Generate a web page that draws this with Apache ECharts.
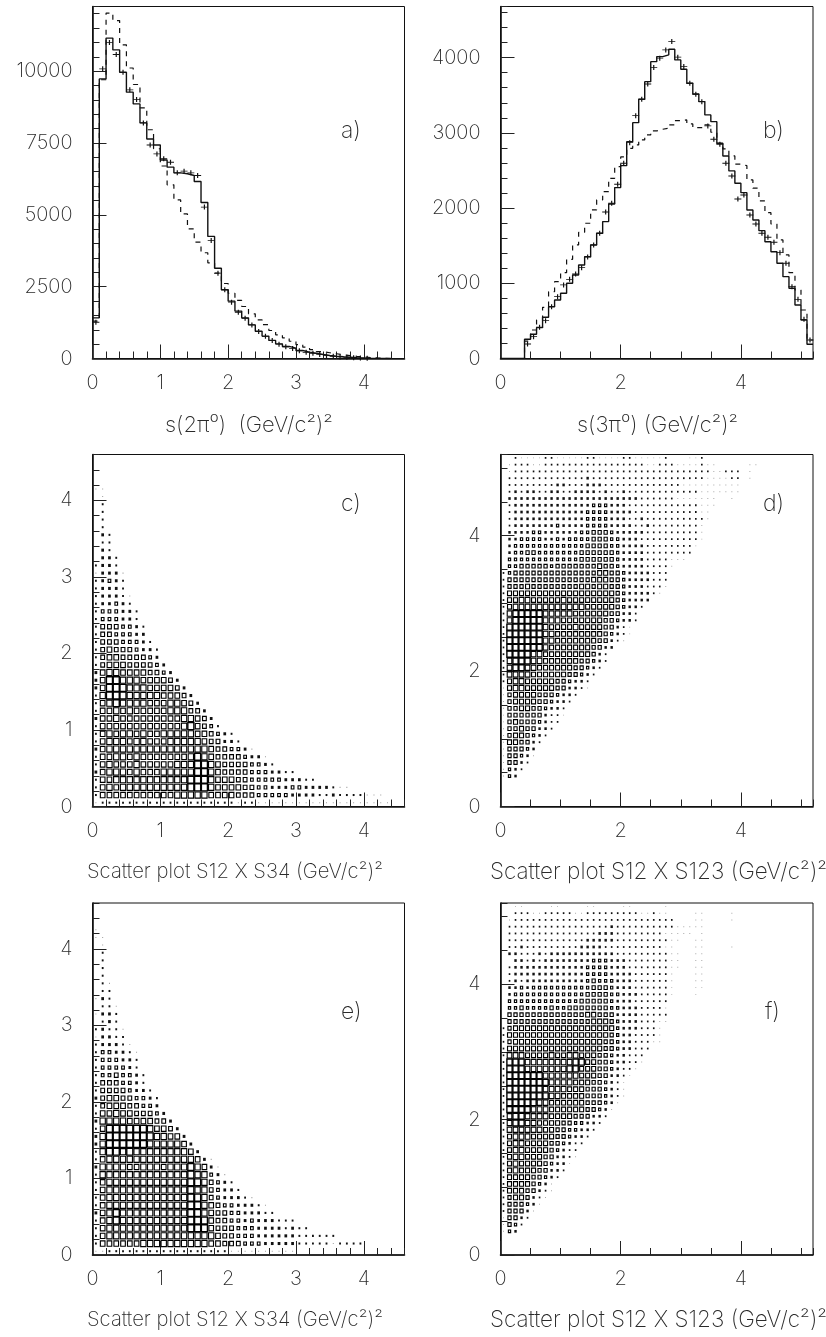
<!DOCTYPE html>
<html>
<head>
<meta charset="utf-8">
<title>Pi0 mass spectra</title>
<script src="https://cdn.jsdelivr.net/npm/echarts@6/dist/echarts.min.js"></script>
<style>
  html, body { margin: 0; background: #fff; }
  #chart { width: 826px; height: 1337px; }
</style>
</head>
<body>
<div id="chart"></div>
<script>
// histogram a), bins of 0.1 from s = 0
const solidA = [1415, 9730, 11150, 10740, 9960, 9270, 8860, 8200, 7640, 7430, 6910, 6660, 6460, 6430, 6370, 6160, 5430, 4250, 3140, 2390, 1995, 1650, 1415, 1170, 950, 780, 630, 510, 420, 360, 280, 220, 185, 140, 105, 80, 60, 45, 30, 20, 12, 5, 2, 0];
const dashedA = [1300, 9700, 12020, 11760, 10915, 10110, 9535, 8725, 7960, 7300, 6700, 6045, 5520, 5030, 4510, 4050, 3680, 3330, 2970, 2610, 2270, 2020, 1810, 1555, 1345, 1180, 975, 825, 720, 600, 485, 395, 310, 240, 200, 165, 130, 100, 75, 55, 35, 20, 10, 0];
const crossA = [1260, 10080, 11000, 10580, 9960, 9350, 9010, 8200, 7430, 7120, 6950, 6830, 6460, 6520, 6460, 6370, 5270, 4110, 2970, 2390, 1960, 1610, 1400, 1170, 940, 770, 630, 500, 410, 350, 270, 215, 180, 135, 100, 75, 55, 40, 25, 15, 10];

// histogram b), bins of 0.1 from s = 0
const solidB = [0, 0, 0, 0, 255, 322, 410, 548, 689, 778, 867, 1000, 1110, 1244, 1354, 1510, 1665, 1820, 2055, 2272, 2564, 2883, 3136, 3447, 3681, 3947, 4014, 4037, 4112, 3970, 3846, 3660, 3517, 3415, 3239, 3149, 2862, 2693, 2494, 2330, 2205, 1975, 1842, 1700, 1553, 1420, 1266, 1088, 934, 711, 512, 189];
const dashedB = [0, 0, 0, 0, 230, 379, 512, 681, 888, 1021, 1141, 1319, 1510, 1678, 1798, 1975, 2108, 2218, 2396, 2551, 2680, 2795, 2840, 2906, 2972, 3026, 3048, 3061, 3105, 3163, 3172, 3119, 3070, 3070, 3105, 3008, 2862, 2786, 2693, 2583, 2564, 2374, 2264, 2095, 1939, 1788, 1576, 1377, 1141, 911, 645, 246];
const crossB = [0, 0, 0, 0, 193, 290, 415, 503, 689, 822, 978, 1053, 1124, 1208, 1350, 1510, 1665, 1948, 2064, 2317, 2596, 2870, 3229, 3447, 3650, 3868, 3993, 4103, 4214, 4006, 3881, 3660, 3513, 3415, 3092, 2915, 2849, 2596, 2427, 2121, 2174, 1908, 1788, 1665, 1612, 1545, 1407, 1266, 955, 787, 521, 246];

// box plots: rows from the lowest y bin upward, each row from the lowest x bin, relative box content
const boxesC = [
  [1,2,2,2,2,2,2,2,2,2,2,2,2,2,2,2,2,2,2,2,2,1,2,2,1,1,1,1,1,1,1,1,1,1,1,1,1,1,1,1,1,1,1,1],
  [2,6,6,6,6,6,6,6,6,6,6,6,7,7,7,7,7,6,6,6,6,5,5,5,4,4,4,4,4,3,3,3,3,2,2,3,2,2,2,2,1,1,1],
  [2,6,7,6,7,7,7,7,7,7,7,7,7,7,8,8,8,7,6,6,6,6,5,5,4,4,3,3,3,4,4,3,3,3,3,2,1,1],
  [2,6,6,7,7,7,7,7,7,7,7,7,7,7,8,8,8,7,6,6,6,5,5,4,4,4,4,4,3,3,3,2,2],
  [3,6,7,7,7,6,7,6,6,6,7,7,7,7,7,8,8,7,6,5,5,5,5,4,4,4,3,3,2,2],
  [2,6,7,6,6,6,7,6,6,6,6,6,7,7,7,8,8,7,6,5,5,5,5,4,4,3,2],
  [2,6,6,7,7,6,7,6,6,6,6,6,6,6,7,8,7,6,5,5,5,5,4,3,3,1],
  [3,6,7,7,7,7,7,7,7,7,7,7,7,7,7,7,7,6,5,5,4,4,3,1],
  [2,6,7,7,7,6,7,7,6,6,6,7,7,7,7,7,6,5,5,3,3,2],
  [2,6,7,6,7,7,6,7,6,6,7,7,7,7,7,6,6,5,4,3,2],
  [2,6,6,6,6,6,6,6,6,6,6,6,6,7,8,6,5,4,2],
  [3,6,6,7,6,6,6,6,6,6,6,6,6,7,7,6,5,3],
  [2,6,6,7,6,7,6,6,6,6,6,7,7,7,5,5,3],
  [2,6,7,8,7,7,7,7,6,6,6,7,7,6,5,3],
  [2,7,8,8,8,7,7,7,7,7,6,6,6,5,3],
  [3,6,8,8,8,7,7,7,6,6,6,6,5,3],
  [3,6,8,8,7,7,7,6,6,6,6,5,3],
  [3,6,7,7,6,6,6,6,5,5,4,3],
  [2,5,6,6,6,5,5,5,5,4,3],
  [2,5,6,6,5,5,5,5,4,3],
  [2,5,6,5,5,5,4,3,3,2],
  [2,5,5,5,4,4,4,3,2],
  [2,5,5,4,4,4,3,3],
  [2,5,5,5,4,4,3,2],
  [2,4,4,4,3,3,2],
  [2,4,4,4,3,3,2],
  [2,3,3,4,3,2],
  [2,3,3,3,2,1],
  [2,3,3,3,2],
  [2,3,4,3,2],
  [1,3,3,3,1],
  [2,3,3,2],
  [0,3,3,2],
  [0,3,2],
  [0,2,2],
  [0,3,2],
  [0,2],
  [0,2],
  [0,2],
  [0,2],
  [0,1],
  [1,1]
];
const boxesD = [
  [], [], [], [],
  [1,4,3],
  [1,4,3,2],
  [1,5,5,3,2],
  [1,5,5,4,3,1],
  [1,5,5,5,4,3],
  [1,6,6,5,5,3,2],
  [1,5,6,6,5,4,3,2],
  [1,5,5,6,5,5,3,3,2],
  [1,5,6,5,5,5,4,3,2,2],
  [1,5,5,5,5,5,5,3,2,2,1],
  [1,5,5,6,6,5,5,4,3,3,2],
  [1,5,6,6,6,6,5,5,4,3,3,2],
  [1,5,6,6,6,6,5,5,5,4,3,3,2],
  [1,6,7,7,6,6,6,6,6,5,5,3,3,2,1],
  [2,6,7,7,6,6,6,6,6,5,5,4,3,3,2],
  [2,7,7,7,7,6,6,6,6,6,6,5,5,4,3,2],
  [2,7,8,8,7,7,6,6,6,6,6,6,5,5,4,3,2],
  [2,7,8,8,8,7,7,6,6,6,6,6,6,5,5,4,3,2],
  [2,8,8,8,8,7,7,6,6,6,6,6,6,6,6,5,3,2],
  [2,8,8,8,8,8,8,7,6,6,6,6,6,6,6,5,5,3,3],
  [2,8,8,8,8,8,8,7,7,6,6,6,6,6,6,6,5,5,3,2,1],
  [2,8,8,8,8,8,8,7,7,6,6,6,6,6,6,6,6,5,4,3,2,1],
  [2,8,8,8,8,8,8,7,6,6,6,6,7,6,6,6,6,5,5,3,2,1],
  [2,7,8,8,8,8,8,7,7,7,6,6,6,6,6,6,6,5,5,4,3,3,2],
  [2,7,8,8,8,8,8,7,7,7,7,7,6,6,6,6,6,6,5,5,3,3,2],
  [2,6,7,7,7,7,7,7,7,7,7,7,7,7,6,6,6,6,6,5,4,3,3,2],
  [2,6,6,7,7,6,6,6,6,6,7,6,6,6,6,6,6,6,6,5,4,3,3,3,3],
  [2,6,6,6,6,6,6,6,6,6,6,6,6,6,6,6,6,6,6,5,4,3,3,3,3,2,1],
  [2,5,5,5,6,5,5,5,5,5,5,5,5,6,6,5,6,6,5,5,4,3,3,3,2,2,2,1],
  [2,5,5,5,5,5,5,5,5,5,5,5,5,5,5,6,6,6,5,5,4,3,3,3,3,2,2,2],
  [2,4,5,5,5,5,5,5,5,5,5,5,5,5,5,5,6,6,5,5,4,3,3,3,3,2,2,2],
  [0,4,4,5,5,5,5,5,4,5,5,5,5,5,5,5,6,5,5,4,3,3,3,3,2,2,2,2,1],
  [0,4,4,4,4,4,4,4,4,4,4,4,4,5,5,5,5,5,5,4,3,3,3,3,2,2,2,2,1,1,1],
  [0,3,4,4,5,5,4,4,4,4,4,4,4,5,5,5,5,5,5,4,3,3,3,3,2,2,2,2,2,2,2,2],
  [0,3,4,4,4,4,4,4,4,4,4,4,4,4,5,5,5,5,4,4,3,3,3,3,2,2,2,2,2,2,2,2,1],
  [0,3,3,4,4,4,4,3,3,4,3,4,4,4,4,5,5,5,4,4,3,3,3,2,2,2,2,2,2,2,2,2,2,1],
  [0,3,3,3,3,4,4,3,3,3,3,3,3,4,4,5,5,5,4,3,3,3,3,3,2,2,2,2,2,2,2,2,2,1],
  [0,2,3,3,3,3,3,3,3,4,3,3,3,3,4,4,4,4,3,3,3,3,2,2,3,2,2,2,2,2,2,2,2,1],
  [0,2,3,3,3,3,3,3,3,3,3,3,3,3,4,4,4,4,3,3,3,2,2,3,2,2,2,2,2,2,2,2,2,2,1],
  [0,2,3,3,3,3,3,3,3,3,3,3,3,3,4,4,4,4,3,3,3,3,2,2,2,2,2,2,2,2,2,2,2,1,1],
  [0,2,3,3,3,3,3,3,3,3,3,3,3,3,3,4,4,4,3,3,3,2,2,2,2,2,2,2,2,2,2,2,2,1,1,1],
  [0,3,3,3,3,3,3,3,3,3,3,3,3,3,3,3,3,3,3,3,3,3,3,2,2,2,2,2,2,1,1,1,1,1,1,1,0,0,1],
  [0,2,3,2,3,3,2,2,3,3,2,2,3,3,3,3,2,3,2,2,3,2,2,2,2,2,2,2,2,2,2,2,2,1,1,1,1,1,1,1],
  [0,2,2,2,2,2,2,2,2,3,3,2,2,2,3,3,3,2,2,2,2,2,2,2,2,2,2,2,2,2,1,1,1,1,1,1,1,1,1,1],
  [0,2,2,2,2,2,2,2,2,2,2,2,2,2,3,2,2,2,2,2,2,2,2,2,2,2,2,2,2,2,2,2,2,2,1,1,1,1,2,2,0,1],
  [0,1,2,2,2,2,2,2,2,2,2,2,2,2,2,2,2,2,2,2,2,2,2,2,2,2,2,2,2,2,2,2,2,2,2,1,1,2,2,2,0,1],
  [0,1,2,2,2,1,1,2,2,2,2,2,2,2,2,2,2,2,2,2,2,2,2,2,1,1,2,2,2,1,1,1,1,2,1,1,0,0,0,0,0,1,1],
  [0,0,2,1,1,1,1,2,2,1,1,1,1,1,2,2,1,1,1,1,2,2,1,1,1,1,1,2,0,0,0,1,1,2]
];
const boxesE = [
  [1,1,2,2,2,2,2,2,2,2,2,2,2,2,2,2,2,2,2,2,1,1,1,1,1,1,1,1,1,1],
  [2,6,6,6,6,6,6,7,7,7,7,7,7,7,7,7,7,6,6,5,5,5,4,4,4,3,3,3,3,3,2,2,2,2,2,1,2,2,2,2],
  [2,6,7,7,7,7,7,7,7,7,7,7,7,7,7,7,7,7,6,5,5,4,4,4,3,3,3,3,3,3,2,2,2,2,2,2],
  [2,6,7,7,7,7,7,7,7,7,7,7,7,7,8,8,8,6,5,5,5,4,4,4,3,3,3,3,2,3,2,2],
  [2,6,7,8,7,7,7,7,7,7,7,7,7,7,8,8,8,6,5,5,4,4,3,4,3,3,3,2,2,2],
  [3,6,7,8,7,7,7,7,7,7,7,7,7,7,8,8,7,6,5,5,4,4,3,3,3,2,2],
  [2,6,7,7,7,7,7,7,7,7,7,7,7,7,8,8,7,6,5,4,4,3,3,3,2,1],
  [2,6,7,7,7,7,7,7,7,7,7,7,7,7,8,8,7,5,4,3,3,3,2,1],
  [2,6,7,7,7,7,7,7,7,7,7,7,7,7,8,7,7,5,4,3,3,2],
  [2,6,7,7,7,7,7,7,7,7,7,7,7,7,8,8,7,5,4,3,2],
  [2,7,7,7,7,7,7,7,7,7,7,7,7,7,8,7,7,4,3,1],
  [3,7,7,7,7,6,6,7,7,7,6,7,7,7,8,7,6,3,1],
  [2,6,7,7,7,7,7,7,7,7,7,7,7,7,7,6,3,1],
  [2,7,8,8,7,8,7,7,7,7,7,7,7,7,6,3],
  [3,7,8,8,8,8,8,8,7,7,7,7,7,6,3],
  [3,7,8,8,8,8,8,8,8,7,7,6,6,3],
  [2,6,8,8,8,8,8,8,7,6,6,5,3],
  [3,7,7,7,7,6,6,6,6,5,5,3],
  [2,6,6,7,6,6,5,5,5,4,3],
  [2,5,6,6,6,5,5,4,4,3],
  [3,5,6,6,5,5,4,4,3,2],
  [2,5,5,5,5,4,3,3,2],
  [2,5,5,5,4,4,3,2],
  [2,4,4,5,4,4,3,2],
  [2,4,4,4,4,3,2],
  [2,4,4,4,3,3,2],
  [2,4,4,3,3,2,1],
  [2,3,3,3,2,1],
  [1,3,3,2,2],
  [2,3,2,2,1],
  [0,2,3,2],
  [1,3,3,2],
  [0,2,2,1],
  [1,3,2],
  [0,2,2],
  [0,2,1],
  [0,2],
  [0,2],
  [0,2],
  [0,2],
  [0,1],
  [1,1],
  [1]
];
const boxesF = [
  [], [], [],
  [1,4,3],
  [1,5,4,2],
  [1,5,5,3,2],
  [2,5,5,5,3,1],
  [2,5,5,5,4,3,1],
  [2,5,6,6,5,3,2,1],
  [2,6,6,6,5,5,3,2,1],
  [2,6,6,6,6,5,4,3,1],
  [2,6,6,6,6,5,5,4,3,2],
  [2,6,7,6,6,6,5,5,3,3,2],
  [2,6,7,6,6,6,6,5,4,3,3,1],
  [2,6,7,7,6,6,6,5,5,3,3,2,1],
  [2,6,7,7,6,6,6,6,5,4,3,2,2],
  [2,6,7,7,6,6,6,6,5,5,4,3,2,2],
  [2,6,7,7,7,6,6,6,6,5,5,4,3,3,2],
  [2,7,7,7,7,7,7,6,6,5,5,4,4,3,3,2],
  [2,7,8,8,7,7,6,6,6,6,5,5,4,4,3,3,2],
  [2,7,8,8,7,7,7,7,6,6,6,6,5,5,5,3,3,2],
  [2,8,8,8,8,7,7,7,6,6,6,6,6,6,5,5,4,3,1],
  [2,8,8,8,8,8,7,7,6,6,6,6,6,6,5,5,5,4,3,1],
  [2,8,8,8,8,8,8,8,7,7,6,6,6,6,5,5,5,4,3,2,1],
  [2,8,8,8,8,8,8,7,7,7,7,6,6,6,5,5,5,4,3,2,1],
  [2,8,8,8,8,8,8,8,7,7,7,7,6,6,6,5,5,4,3,2,1],
  [2,8,8,8,8,8,8,7,7,7,7,7,7,6,6,6,5,5,3,3,2,1],
  [2,8,8,8,7,7,7,7,7,7,7,8,8,6,6,6,5,5,4,3,2,2,1],
  [2,8,8,8,7,7,7,7,7,7,7,7,8,8,6,6,5,5,4,3,3,2,2,1],
  [2,7,7,7,6,6,6,6,7,6,6,7,7,6,6,6,5,5,4,3,3,2,2,2],
  [2,6,6,6,6,6,6,6,6,6,6,6,6,6,6,6,6,5,5,4,3,3,2,2,2],
  [2,5,6,6,6,6,6,6,6,6,6,6,6,6,6,6,6,5,5,4,3,3,2,2,2,1,1],
  [2,6,6,6,6,6,6,6,6,6,6,6,6,6,6,6,6,6,5,4,3,3,2,2,2,2,1],
  [2,5,6,6,6,6,6,6,6,6,6,6,6,6,6,6,6,6,6,4,3,3,3,2,2,2,1],
  [0,5,5,5,5,5,5,5,5,5,5,5,5,5,5,6,6,6,5,4,3,3,3,2,2,2,1,1],
  [0,5,5,5,5,5,5,5,5,5,5,5,5,5,6,6,5,5,5,3,3,3,3,2,2,2,2,2],
  [0,4,4,5,4,4,4,4,5,4,4,5,5,5,5,5,5,5,4,4,3,3,3,2,2,2,2,1],
  [0,4,4,4,4,4,4,4,4,4,4,4,4,5,5,5,5,5,4,3,3,3,2,2,2,2,2,2],
  [0,3,4,4,4,4,4,4,4,4,4,4,4,4,5,5,5,5,4,4,3,3,3,2,2,2,2,2,1,0,0,0,1],
  [0,3,3,4,3,4,4,4,4,4,4,4,4,4,4,5,5,5,4,3,3,3,2,2,2,2,2,2,1,0,0,0,1,1],
  [0,2,3,2,3,3,3,3,3,3,3,3,3,3,4,5,4,4,4,3,3,3,2,2,2,2,2,2,1,0,0,0,1,1],
  [0,2,3,3,3,3,3,3,3,3,3,3,3,3,4,4,4,4,3,3,3,3,2,2,2,2,2,2,1,0,0,0,1,1],
  [0,2,3,3,3,3,3,3,3,3,3,3,3,3,4,4,4,4,3,3,3,2,2,2,2,2,2,2,1,1,0,0,1,1],
  [0,0,3,3,2,3,2,3,3,3,3,3,3,3,3,4,4,4,3,3,3,2,2,2,2,2,2,2,1,1,0,0,1,1],
  [0,3,3,2,2,2,3,2,3,3,3,3,3,3,3,3,3,3,3,2,2,2,2,2,2,2,2,2,1,1,0,0,1,1],
  [0,2,2,3,2,2,2,2,2,2,2,2,2,3,3,3,3,2,2,2,2,2,2,2,2,2,2,1,1,0,0,0,1,1,0,0,0,0,1],
  [0,2,2,2,2,2,2,2,2,2,2,2,2,2,3,3,3,3,3,2,2,2,2,2,2,2,2,2,1,1,0,0,1,1],
  [0,2,2,2,2,2,2,2,2,2,2,2,2,2,2,2,3,3,3,2,2,2,2,2,2,2,2,1,1,1,1,1,0,1],
  [0,2,2,2,2,2,2,2,2,2,2,2,2,2,2,2,2,2,3,2,2,2,2,2,2,2,2,2,2,1,1,1,1,1],
  [0,1,2,2,2,2,2,2,2,2,2,2,2,2,2,2,2,2,2,2,2,2,2,2,2,2,2,2,2,0,0,0,1,1,0,0,0,0,1],
  [0,0,2,2,2,1,1,2,2,2,2,2,1,1,2,2,2,2,2,2,2,2,2,1,1,2,1,1,0,0,0,0,1,1,0,0,0,0,1],
  [0,0,1,1,0,0,0,0,1,1,0,0,0,0,1,1,0,0,0,0,1,1,0,0,0,0,0,1]
];

const binWidth = 0.1;
const leftCol = 92.5, rightCol = 500.5;
const fontFamily = 'Inter, "Liberation Sans", sans-serif';
const textColor = '#2a2a2a';
// share of the cell that a box of a given content fills
const boxScale = [0, 0.14, 0.27, 0.4, 0.54, 0.7, 0.83, 0.93, 1.04];

const panels = [
  { left: leftCol,  top: 6.5,   width: 312, xMax: 4.6, yMax: 12250, xMajor: 1, xMinor: 0.2, yMajor: 2500, yMinor: 500 },
  { left: rightCol, top: 6.5,   width: 312.5, xMax: 5.2, yMax: 4680, xMajor: 2, xMinor: 0.5, yMajor: 1000, yMinor: 200 },
  { left: leftCol,  top: 454.5, width: 312, xMax: 4.6, yMax: 4.6, xMajor: 1, xMinor: 0.2, yMajor: 1, yMinor: 0.2 },
  { left: rightCol, top: 454.5, width: 312.5, xMax: 5.2, yMax: 5.2, xMajor: 2, xMinor: 0.5, yMajor: 2, yMinor: 0.5 },
  { left: leftCol,  top: 903,   width: 312, xMax: 4.6, yMax: 4.6, xMajor: 1, xMinor: 0.2, yMajor: 1, yMinor: 0.2 },
  { left: rightCol, top: 903,   width: 312.5, xMax: 5.2, yMax: 5.2, xMajor: 2, xMinor: 0.5, yMajor: 2, yMinor: 0.5 }
];

const grids = [], xAxes = [], yAxes = [], series = [];

panels.forEach((p, i) => {
  grids.push({ left: p.left, top: p.top, width: p.width, height: 352, show: true, borderColor: '#111', borderWidth: 1, backgroundColor: 'transparent' });
  const common = { type: 'value', gridIndex: i, min: 0, splitLine: { show: false } };
  const line = { show: true, onZero: false, lineStyle: { color: '#111', width: 1.6 } };
  const plain = v => String(v);
  xAxes.push({
    ...common, position: 'bottom', max: p.xMax, interval: p.xMajor,
    axisLine: line,
    axisTick: { inside: true, length: 14, lineStyle: { color: '#222', width: 1 } },
    axisLabel: { margin: 14, fontSize: 20, fontWeight: 200, fontFamily, color: textColor, showMaxLabel: false, formatter: plain }
  });
  xAxes.push({
    ...common, position: 'bottom', max: p.xMax, interval: p.xMinor,
    axisLine: { show: false }, axisLabel: { show: false },
    axisTick: { inside: true, length: 7, lineStyle: { color: '#222', width: 1 } }
  });
  yAxes.push({
    ...common, position: 'left', max: p.yMax, interval: p.yMajor,
    axisLine: line,
    axisTick: { inside: true, length: 14, lineStyle: { color: '#222', width: 1 } },
    axisLabel: { margin: 20, fontSize: 20, fontWeight: 200, fontFamily, color: textColor, showMaxLabel: false, formatter: plain }
  });
  yAxes.push({
    ...common, position: 'left', max: p.yMax, interval: p.yMinor,
    axisLine: { show: false }, axisLabel: { show: false },
    axisTick: { inside: true, length: 7, lineStyle: { color: '#222', width: 1 } }
  });
});

function stepData(values) {
  const pts = values.map((v, k) => [k * binWidth, v]);
  pts.push([values.length * binWidth, values[values.length - 1]]);
  return pts;
}

function addHistogram(panel, solid, dashed, cross) {
  const axes = { xAxisIndex: panel * 2, yAxisIndex: panel * 2 };
  series.push({ ...axes, type: 'line', step: 'end', showSymbol: false, silent: true, data: stepData(dashed), lineStyle: { color: '#111', width: 1.2, type: [5, 5] } });
  series.push({ ...axes, type: 'line', step: 'end', showSymbol: false, silent: true, data: stepData(solid), lineStyle: { color: '#111', width: 1.4 } });
  series.push({
    ...axes, type: 'scatter', silent: true,
    symbol: 'path://M0 5H10M5 0V10', symbolSize: [7, 5], symbolKeepAspect: false,
    itemStyle: { color: 'transparent', borderColor: '#111', borderWidth: 1, opacity: 1 },
    data: cross.map((v, k) => [(k + 0.5) * binWidth, v]).filter(d => d[1] > 0)
  });
}

// HBOOK style box: side grows with the content, small ones come out as dots
function renderBox(params, api) {
  const level = api.value(2);
  const c = api.coord([api.value(0), api.value(1)]);
  const cell = api.size([binWidth, binWidth]);
  const w = cell[0] * boxScale[level], h = cell[1] * boxScale[level];
  if (level <= 3) {
    return {
      type: 'rect',
      shape: { x: c[0] - w / 2, y: c[1] - h / 2, width: w, height: h },
      style: { fill: level === 1 ? '#999' : '#111' }
    };
  }
  return {
    type: 'rect',
    shape: { x: c[0] - w / 2 + 0.5, y: c[1] - h / 2 + 0.5, width: w - 1, height: h - 1 },
    style: { fill: 'none', stroke: '#000', lineWidth: level >= 8 ? 1.4 : 1.12 }
  };
}

function addBoxes(panel, rows) {
  const data = [];
  rows.forEach((row, j) => row.forEach((v, k) => {
    if (v > 0) data.push([(k + 0.5) * binWidth, (j + 0.5) * binWidth, v]);
  }));
  series.push({
    type: 'custom', xAxisIndex: panel * 2, yAxisIndex: panel * 2, silent: true,
    renderItem: renderBox, encode: { x: 0, y: 1 }, data
  });
}

addHistogram(0, solidA, dashedA, crossA);
addHistogram(1, solidB, dashedB, crossB);
addBoxes(2, boxesC);
addBoxes(3, boxesD);
addBoxes(4, boxesE);
addBoxes(5, boxesF);

const panelTags = [['a)', 341, 120], ['b)', 763, 120], ['c)', 341, 493], ['d)', 763, 493], ['e)', 341, 1001], ['f)', 765, 1001]];
const histTitles = [['s(2π⁰)  (GeV/c²)²', 165, 414], ['s(3π⁰) (GeV/c²)²', 577, 414]];
const leftTitles = [['Scatter plot S12 X S34 (GeV/c²)²', 87, 862], ['Scatter plot S12 X S34 (GeV/c²)²', 87, 1310]];
const rightTitles = [['Scatter plot S12 X S123 (GeV/c²)²', 490, 861], ['Scatter plot S12 X S123 (GeV/c²)²', 490, 1309]];
const textItem = size => c => ({
  type: 'text', left: c[1], top: c[2],
  style: { text: c[0], font: '200 ' + size + 'px ' + fontFamily, fill: textColor }
});

const chart = echarts.init(document.getElementById('chart'));
chart.setOption({
  animation: false,
  backgroundColor: '#fff',
  grid: grids,
  xAxis: xAxes,
  yAxis: yAxes,
  series,
  graphic: panelTags.map(textItem(23))
    .concat(histTitles.map(textItem(22)))
    .concat(leftTitles.map(textItem(20.3)))
    .concat(rightTitles.map(textItem(22.5)))
});
</script>
</body>
</html>
